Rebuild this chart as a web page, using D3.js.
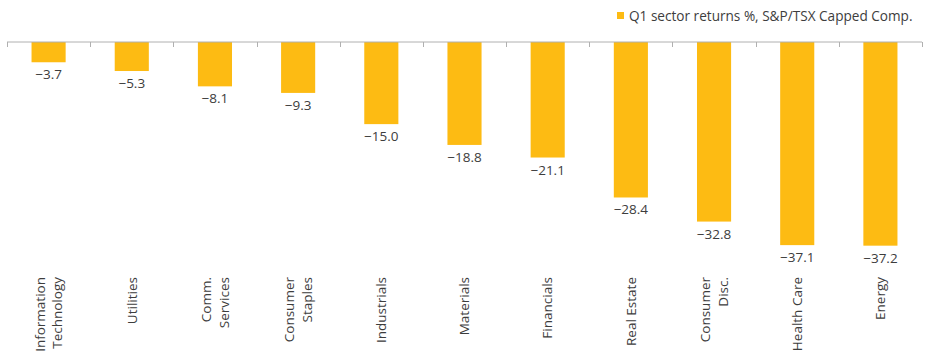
<!DOCTYPE html>
<html><head><meta charset="utf-8">
<script src="https://cdn.jsdelivr.net/npm/d3@7"></script>
<style>body{margin:0;background:#fff}svg{display:block}text{font-family:"Open Sans",sans-serif}</style>
</head><body><svg id="c" width="929" height="360"></svg>
<script>
const categories = ["Information|Technology","Utilities","Comm.|Services","Consumer|Staples","Industrials","Materials","Financials","Real Estate","Consumer|Disc.","Health Care","Energy"];
const values = [-3.7,-5.3,-8.1,-9.3,-15.0,-18.8,-21.1,-28.4,-32.8,-37.1,-37.2];
const seriesName = "Q1 sector returns %, S&P/TSX Capped Comp.";

const svg = d3.select("#c");
const color = "#FDBB13", textColor = "#3d3d3d";
const x = d3.scaleBand().domain(categories).range([7, 922]).paddingInner(0.59).paddingOuter(0.295);
const y = d3.scaleLinear().domain([0, -40]).range([42, 261]);

svg.selectAll("rect.bar").data(values).join("rect")
  .attr("x", (d,i)=>x(categories[i])).attr("width", x.bandwidth())
  .attr("y", y(0)).attr("height", d=>y(d)-y(0)).attr("fill", color);

// axis line and ticks
svg.append("line").attr("x1",7).attr("x2",922).attr("y1",y(0)).attr("y2",y(0)).attr("stroke","#b0b0b0").attr("stroke-width",1);
const step = x.step();
const tickPos = d3.range(categories.length+1).map(i=>7+i*step);
svg.selectAll("line.tick").data(tickPos).join("line")
  .attr("x1",d=>Math.round(d)+0.5).attr("x2",d=>Math.round(d)+0.5).attr("y1",y(0)).attr("y2",y(0)+5).attr("stroke","#b0b0b0");

// value labels
svg.selectAll("text.val").data(values).join("text")
  .attr("x",(d,i)=>x(categories[i])+x.bandwidth()/2).attr("y",d=>y(d)+17)
  .attr("text-anchor","middle").attr("font-size",13.5).attr("fill",textColor)
  .text(d=>"\u2212"+Math.abs(d).toFixed(1));

// category labels rotated
categories.forEach((c,i)=>{
  const lines = c.split("|");
  const cx = x(c)+x.bandwidth()/2;
  const g = svg.append("g").attr("transform",`translate(${cx},277) rotate(-90)`);
  lines.forEach((l,j)=>{
    const off = (j-(lines.length-1)/2)*17.5;
    g.append("text").attr("x",0).attr("y",off+4.8).attr("text-anchor","end")
      .attr("font-size",13.5).attr("fill",textColor).text(l);
  });
});

// legend
svg.append("rect").attr("x",617).attr("y",12).attr("width",7).attr("height",7).attr("fill",color);
svg.append("text").attr("x",629).attr("y",20.5).attr("font-size",13.6).attr("fill",textColor).text(seriesName);
</script></body></html>
